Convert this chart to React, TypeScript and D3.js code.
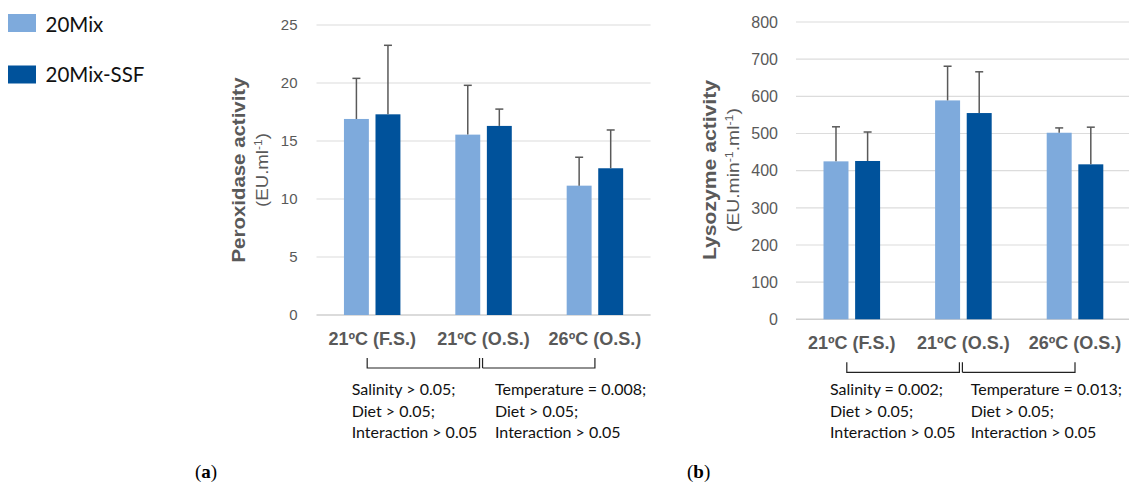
import React from "react";
import * as d3 from "d3";

// groups on the x axis
const categories = ["21ºC (F.S.)", "21ºC (O.S.)", "26ºC (O.S.)"];
const series = ["20Mix", "20Mix-SSF"];
const seriesColors = ["#7EAADC", "#00529B"];

// (a) peroxidase activity, mean and SD
const peroxMix = [16.9, 15.55, 11.15];
const peroxMixSd = [3.5, 4.25, 2.45];
const peroxSsf = [17.3, 16.3, 12.65];
const peroxSsfSd = [5.95, 1.45, 3.3];
const peroxTicks = [0, 5, 10, 15, 20, 25];

// (b) lysozyme activity, mean and SD
const lysoMix = [425, 589, 502];
const lysoMixSd = [93, 92, 13];
const lysoSsf = [426, 555, 417];
const lysoSsfSd = [78, 111, 100];
const lysoTicks = [0, 100, 200, 300, 400, 500, 600, 700, 800];

// stats text under the brackets
const statsA1 = ["Salinity > 0.05;", "Diet > 0.05;", "Interaction > 0.05"];
const statsA2 = ["Temperature = 0.008;", "Diet > 0.05;", "Interaction > 0.05"];
const statsB1 = ["Salinity = 0.002;", "Diet > 0.05;", "Interaction > 0.05"];
const statsB2 = ["Temperature = 0.013;", "Diet > 0.05;", "Interaction > 0.05"];

const GRAY = "#595959";
const ARIAL = "'Liberation Sans', Arial, sans-serif";
const CALIBRI = "Lato, 'Open Sans', sans-serif";

type ChartProps = {
  means: number[][];
  sds: number[][];
  ticks: number[];
  x0: number;
  x1: number;
  yTop: number;
  yBottom: number;
  tickSize: number;
  tickX: number;
  title: string;
  titleLen: number;
  unit: React.ReactNode;
  unitLen: number;
  titleX: number;
  unitX: number;
  stats1: string[];
  stats2: string[];
  stats1X: number;
  stats2X: number;
  tag: string;
  tagX: number;
};

function Chart(p: ChartProps) {
  const x = d3.scaleBand().domain(categories).range([p.x0, p.x1]);
  const xSub = d3
    .scaleBand()
    .domain(series)
    .range([0, x.bandwidth()])
    .paddingInner(0.21)
    .paddingOuter(0.87);
  const y = d3
    .scaleLinear()
    .domain([0, d3.max(p.ticks) as number])
    .range([p.yBottom, p.yTop]);
  const cx = (c: string) => (x(c) as number) + x.bandwidth() / 2;

  return (
    <g>
      {p.ticks.map((t) => (
        <g key={t}>
          <line
            x1={p.x0}
            x2={p.x1}
            y1={y(t)}
            y2={y(t)}
            stroke={t === 0 ? "#CFCFCF" : "#DCDCDC"}
            strokeWidth={t === 0 ? 1.6 : 1.2}
          />
          <text
            x={p.tickX}
            y={y(t)}
            dy="0.36em"
            textAnchor="end"
            fontFamily={ARIAL}
            fontSize={p.tickSize}
            fill={GRAY}
          >
            {t}
          </text>
        </g>
      ))}

      {series.map((s, si) =>
        categories.map((c, ci) => {
          const bx = (x(c) as number) + (xSub(s) as number);
          const v = p.means[si][ci];
          const top = y(v + p.sds[si][ci]);
          const mx = bx + xSub.bandwidth() / 2;
          return (
            <g key={s + c}>
              <rect
                x={bx}
                y={y(v)}
                width={xSub.bandwidth()}
                height={y(0) - y(v)}
                fill={seriesColors[si]}
              />
              <line x1={mx} x2={mx} y1={y(v)} y2={top} stroke={GRAY} strokeWidth={1.5} />
              <line x1={mx - 4} x2={mx + 4} y1={top} y2={top} stroke={GRAY} strokeWidth={1.5} />
            </g>
          );
        })
      )}

      {categories.map((c) => (
        <text
          key={c}
          x={cx(c)}
          y={p.yBottom + 30}
          textAnchor="middle"
          fontFamily={ARIAL}
          fontWeight="bold"
          fontSize={18}
          fill={GRAY}
        >
          {c}
        </text>
      ))}

      <g transform={`translate(${p.titleX},170)rotate(-90)`}>
        <text
          textAnchor="middle"
          fontFamily={ARIAL}
          fontWeight="bold"
          fontSize={19}
          fill={GRAY}
          textLength={p.titleLen}
          lengthAdjust="spacingAndGlyphs"
          x={-p.titleLen / 2}
          style={{ textAnchor: "start" }}
        >
          {p.title}
        </text>
      </g>
      <g transform={`translate(${p.unitX},170)rotate(-90)`}>
        <text
          fontFamily={ARIAL}
          fontSize={17}
          fill={GRAY}
          x={-p.unitLen / 2}
          textLength={p.unitLen}
          lengthAdjust="spacingAndGlyphs"
        >
          {p.unit}
        </text>
      </g>

      <path
        d={`M${cx(categories[0]) - 5},${p.yBottom + 43}v10H${cx(categories[1]) - 4}v-10`}
        fill="none"
        stroke="#222"
        strokeWidth={1.2}
      />
      <path
        d={`M${cx(categories[1]) - 1},${p.yBottom + 53}v-10M${cx(categories[1]) - 1},${p.yBottom + 53}H${cx(categories[2])}v-10`}
        fill="none"
        stroke="#222"
        strokeWidth={1.2}
      />

      {[p.stats1, p.stats2].map((lines, k) =>
        lines.map((l, i) => (
          <text
            key={k + "-" + i}
            x={k === 0 ? p.stats1X : p.stats2X}
            y={395 + i * 21.5}
            fontFamily={CALIBRI}
            fontSize={16}
            fill="#111"
          >
            {l}
          </text>
        ))
      )}

      <text x={p.tagX} y={478} fontFamily="'Liberation Serif', serif" fontSize={19} fill="#000">
        (<tspan fontWeight="bold">{p.tag}</tspan>)
      </text>
    </g>
  );
}

export default function App() {
  return (
    <svg
      width={1129}
      height={486}
      style={{ position: "absolute", left: 0, top: 0, background: "#fff" }}
    >
      {series.map((s, i) => (
        <g key={s}>
          <rect x={8} y={14 + i * 51.5} width={28} height={18} fill={seriesColors[i]} />
          <text x={45.5} y={32.3 + i * 50} fontFamily={CALIBRI} fontSize={20.5} fill="#111">
            {s}
          </text>
        </g>
      ))}

      <Chart
        means={[peroxMix, peroxSsf]}
        sds={[peroxMixSd, peroxSsfSd]}
        ticks={peroxTicks}
        x0={316.5}
        x1={650.6}
        yTop={25}
        yBottom={315}
        tickSize={15}
        tickX={297.5}
        title="Peroxidase activity"
        titleLen={185}
        unit={
          <>
            (EU.ml<tspan dy={-6} fontSize={11}>-1</tspan>
            <tspan dy={6}>)</tspan>
          </>
        }
        unitLen={74}
        titleX={245}
        unitX={268}
        stats1={statsA1}
        stats2={statsA2}
        stats1X={351.7}
        stats2X={495}
        tag="a"
        tagX={195}
      />

      <Chart
        means={[lysoMix, lysoSsf]}
        sds={[lysoMixSd, lysoSsfSd]}
        ticks={lysoTicks}
        x0={796}
        x1={1130.8}
        yTop={22}
        yBottom={319.3}
        tickSize={16}
        tickX={778}
        title="Lysozyme activity"
        titleLen={180}
        unit={
          <>
            (EU.min<tspan dy={-6} fontSize={11}>-1</tspan>
            <tspan dy={6}>.ml</tspan>
            <tspan dy={-6} fontSize={11}>-1</tspan>
            <tspan dy={6}>)</tspan>
          </>
        }
        unitLen={124}
        titleX={716}
        unitX={739}
        stats1={statsB1}
        stats2={statsB2}
        stats1X={830}
        stats2X={970.7}
        tag="b"
        tagX={687}
      />
    </svg>
  );
}
